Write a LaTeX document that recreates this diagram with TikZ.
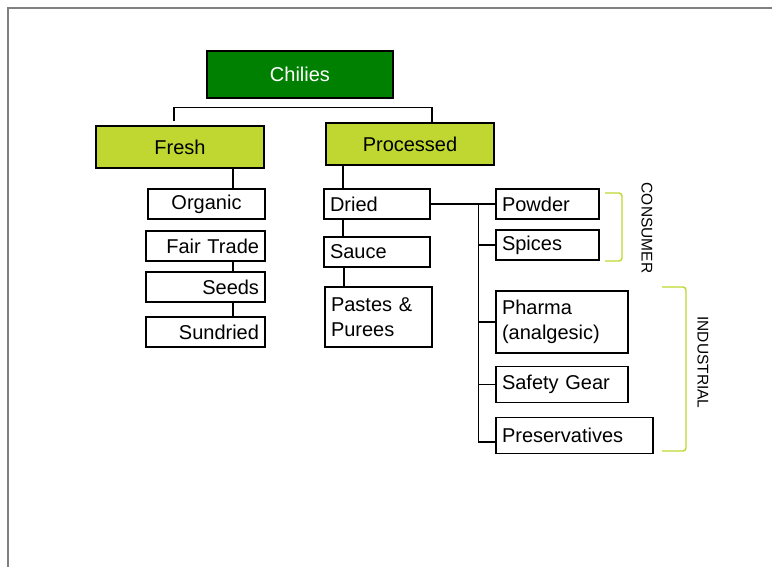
\documentclass[tikz,border=0pt]{standalone}
\usepackage{fontspec}
\setmainfont{Liberation Sans}
\usetikzlibrary{positioning}
\definecolor{chiligreen}{RGB}{0,128,0}
\definecolor{limegreen}{RGB}{191,215,48}
\definecolor{framegray}{RGB}{128,128,128}
\newcommand{\boxfont}{\fontsize{20}{24.5}\selectfont}
\tikzset{
  box/.style={draw, line width=1.4pt, inner ysep=0pt, font=\boxfont},
  root/.style={box, fill=chiligreen, text=white, minimum width=186pt, minimum height=47pt},
  branch/.style={box, fill=limegreen, minimum width=168pt, minimum height=42pt},
  leaf/.style={box, fill=white, inner xsep=6pt, minimum height=30pt, align=left},
  bracket/.style={limegreen, line width=1.4pt, rounded corners=3pt},
  side label/.style={rotate=-90, font=\fontsize{15.5}{18}\selectfont}
}
\begin{document}
\begin{tikzpicture}[x=1pt,y=-1pt,on grid,line width=1.4pt]
  \useasboundingbox (0,0) rectangle (772,567);
  \draw[framegray, line width=2pt] (8,567) -- (8,8) -- (772,8);

  \node[root] (chilies) at (300,74.5) {Chilies};
  \node[branch] (fresh) at (180,147) {Fresh};
  \node[branch] (processed) at (410,144) {Processed};

  % fresh side
  \node[leaf, text width=105pt, align=center] (organic) at (206.5,204) {Organic};
  \node[leaf, text width=107pt, align=right] (fairtrade) at (205.5,246) {Fair Trade};
  \node[leaf, text width=107pt, align=right, below=41pt of fairtrade] (seeds) {Seeds};
  \node[leaf, text width=107pt, align=right, below=45pt of seeds] (sundried) {Sundried};

  % processed side
  \node[leaf, text width=94pt] (dried) at (377,204) {Dried};
  \node[leaf, text width=94pt, below=48pt of dried] (sauce) {Sauce};
  \node[leaf, text width=95pt, minimum height=60pt] (pastes) at (378.5,317) {Pastes \&\\Purees};

  \node[leaf, text width=91pt] (powder) at (547.5,204) {Powder};
  \node[leaf, text width=91pt, below=41pt of powder] (spices) {Spices};
  \node[leaf, text width=120pt, minimum height=62pt] (pharma) at (562,322) {Pharma\\(analgesic)};
  \node[leaf, text width=120pt, minimum height=36pt] (safety) at (562,384.5) {Safety Gear};
  \node[leaf, text width=145pt, minimum height=36pt] (preservatives) at (574.5,435.5) {Preservatives};

  \node[side label] (consumer) at (647,228) {CONSUMER};
  \node[side label] (industrial) at (703,362.5) {INDUSTRIAL};

  % connectors
  \draw ([xshift=-6pt,yshift=4pt]fresh.north) |- ([yshift=-9pt]chilies.south) -| ([xshift=22pt]processed.north);
  \draw ([xshift=53pt]fresh.south) -- ([xshift=53pt]fresh.south |- organic.north);
  \draw ([xshift=27.5pt]fairtrade.south) -- ([xshift=27.5pt]seeds.north);
  \draw ([xshift=27.5pt]seeds.south) -- ([xshift=27.5pt]sundried.north);

  \draw ([xshift=-67pt]processed.south) -- ([xshift=-67pt]processed.south |- dried.north);
  \draw ([xshift=-34pt]dried.south) -- ([xshift=-34pt]sauce.north);
  \draw ([xshift=-33pt]sauce.south) -- ([xshift=-33pt]sauce.south |- pastes.north);

  \draw (dried.east) -- (powder.west);
  \coordinate (trunk) at ([xshift=-17pt]powder.west);
  \draw (trunk) |- ([yshift=-6.5pt]preservatives.west);
  \draw (trunk |- spices.west) -- (spices.west);
  \draw (trunk |- pharma.west) -- (pharma.west);
  \draw (trunk |- safety.west) -- (safety.west);

  % brackets
  \draw[bracket] (605,193) -| (622,261) -- (605,261);
  \draw[bracket] (662,287) -| (686,451) -- (662,451);
\end{tikzpicture}
\end{document}
